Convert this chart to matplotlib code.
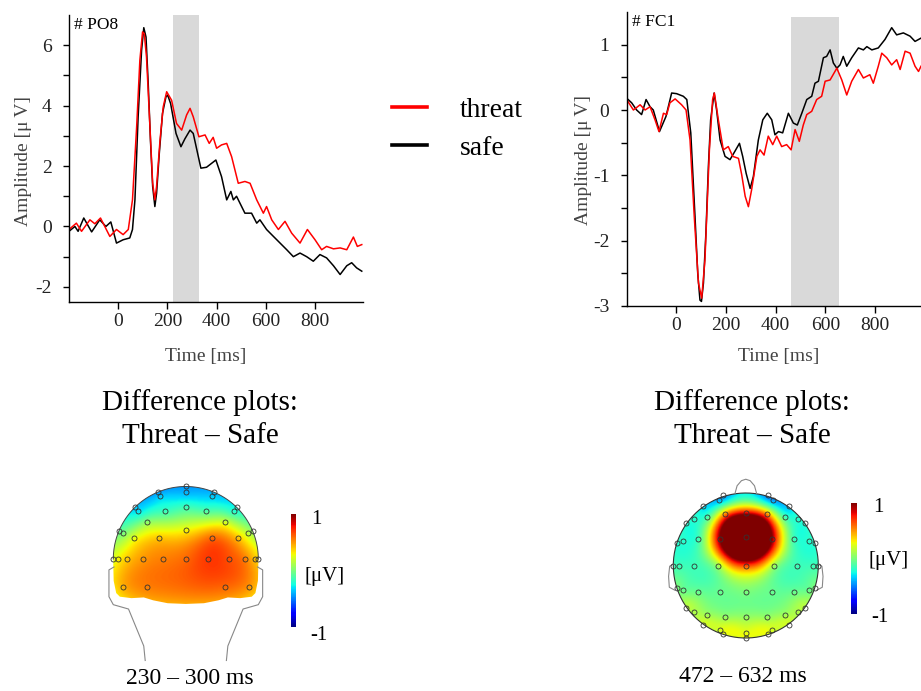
import numpy as np
import matplotlib
matplotlib.use("Agg")
import matplotlib.pyplot as plt
from matplotlib.path import Path
from matplotlib.patches import PathPatch, Circle
from matplotlib.lines import Line2D
from matplotlib.cm import ScalarMappable
from matplotlib.colors import Normalize

plt.rcParams["font.family"] = ["Liberation Serif", "DejaVu Serif"]
plt.rcParams["axes.unicode_minus"] = False

# ---- ERP waveforms (time in ms, amplitude in uV) ----
po8_safe_t = [-200, -176, -163, -140, -108, -75, -50, -30, -7, 20, 47, 58, 68, 81, 95, 104, 113, 122, 131, 140,
              149, 156, 167, 180, 194, 201, 213, 235, 255, 271, 292, 305, 336, 359, 397, 420, 441, 458, 468, 481,
              515, 542, 563, 576, 603, 631, 658, 685, 712, 739, 766, 793, 820, 847, 875, 902, 929, 949, 969, 990]
po8_safe = [-0.16, 0.0, -0.16, 0.28, -0.18, 0.22, 0.0, 0.15, -0.55, -0.44, -0.38, -0.1, 0.88, 3.63, 5.83, 6.58, 6.27, 4.73, 2.87, 1.33,
            0.66, 1.1, 2.42, 3.74, 4.29, 4.35, 4.07, 3.08, 2.64, 2.9, 3.19, 3.08, 1.93, 1.96, 2.2, 1.65, 0.88, 1.16, 0.88, 1.0,
            0.44, 0.44, 0.11, 0.22, -0.1, -0.33, -0.55, -0.77, -1.0, -0.88, -1.0, -1.15, -0.93, -1.04, -1.3, -1.59, -1.3, -1.2, -1.37, -1.48]

po8_threat_t = [-200, -170, -149, -115, -95, -72, -34, -7, 20, 41, 58, 75, 88, 99, 106, 115, 129, 140, 149, 156,
                170, 183, 197, 217, 237, 258, 278, 292, 305, 328, 353, 370, 386, 400, 420, 441, 461, 488, 515, 536,
                563, 590, 603, 624, 651, 678, 705, 739, 769, 800, 827, 847, 875, 902, 929, 956, 972, 990]
po8_threat = [-0.1, 0.11, -0.16, 0.22, 0.09, 0.28, -0.33, -0.1, -0.27, -0.1, 0.88, 3.3, 5.5, 6.44, 6.38, 5.61, 3.3, 1.44, 0.88, 1.33,
              2.86, 3.96, 4.46, 4.18, 3.41, 3.19, 3.69, 3.91, 3.63, 2.97, 3.03, 2.75, 2.95, 2.59, 2.7, 2.75, 2.31, 1.43, 1.49, 1.43,
              0.88, 0.44, 0.66, 0.22, -0.1, 0.17, -0.22, -0.55, -0.1, -0.44, -0.77, -0.66, -0.74, -0.71, -0.77, -0.35, -0.66, -0.6]

fc1_safe_t = [-200, -180, -160, -140, -122, -106, -93, -68, -42, -19, 1, 28, 42, 58, 75, 86, 95, 101, 109, 119,
              129, 138, 152, 162, 176, 196, 216, 236, 254, 267, 281, 297, 310, 330, 348, 366, 384, 397, 411, 428,
              451, 471, 487, 505, 525, 545, 558, 572, 592, 605, 619, 632, 646, 659, 672, 686, 706, 733, 753, 767,
              787, 813, 840, 867, 887, 914, 941, 961, 985]
fc1_safe = [0.18, 0.11, 0.0, -0.07, 0.16, 0.05, 0.0, -0.33, -0.1, 0.26, 0.25, 0.21, 0.16, -0.35, -1.63, -2.5, -2.91, -2.93, -2.65, -1.88,
            -0.86, -0.15, 0.26, 0.0, -0.46, -0.71, -0.76, -0.63, -0.51, -0.71, -0.97, -1.2, -1.02, -0.46, -0.15, -0.05, -0.15, -0.38, -0.33, -0.35,
            -0.05, -0.2, -0.23, -0.05, 0.16, 0.21, 0.41, 0.44, 0.8, 0.82, 0.92, 0.72, 0.64, 0.69, 0.82, 0.67, 0.8, 0.95, 0.92, 0.97,
            0.92, 0.95, 1.08, 1.26, 1.15, 1.18, 1.13, 1.05, 1.1]

fc1_threat_t = [-200, -173, -146, -126, -106, -86, -70, -52, -39, -26, -5, 21, 39, 55, 72, 89, 102, 115, 133, 146,
                153, 169, 189, 209, 227, 250, 263, 277, 290, 303, 324, 337, 353, 370, 388, 404, 424, 444, 462, 478,
                495, 511, 525, 545, 565, 585, 599, 619, 646, 666, 686, 706, 733, 753, 779, 793, 813, 827, 847, 867,
                887, 901, 921, 941, 961, 975, 985]
fc1_threat = [0.16, 0.0, 0.08, 0.0, 0.05, -0.15, -0.33, -0.05, -0.07, 0.11, 0.17, 0.08, 0.0, -0.46, -1.63, -2.65, -2.88, -2.3, -0.61, 0.16,
              0.26, -0.15, -0.61, -0.56, -0.71, -0.74, -0.99, -1.32, -1.48, -1.22, -0.71, -0.61, -0.69, -0.4, -0.53, -0.4, -0.56, -0.53, -0.61, -0.3,
              -0.48, -0.23, -0.07, -0.02, 0.16, 0.21, 0.44, 0.46, 0.64, 0.46, 0.23, 0.44, 0.62, 0.49, 0.54, 0.41, 0.67, 0.87, 0.8, 0.69,
              0.77, 0.62, 0.9, 0.87, 0.67, 0.59, 0.67]

po8_window = (224, 328)
fc1_window = (462, 654)

# ---- topography: electrode positions (head radius units) and difference values ----
back_x = [0, 0, -0.39, -0.36, 0.39, 0.36, -0.70, -0.66, 0.66, 0.70, -0.29, 0, 0.28, -0.54, 0.54,
          -0.92, -0.87, 0, 0.86, 0.92, -0.72, -0.37, 0.36, 0.72,
          -1.0, -0.94, -0.81, -0.59, -0.31, 0, 0.31, 0.59, 0.81, 0.95, 1.0, -0.87, -0.54, 0.54, 0.87]
back_y = [1.01, 0.93, 0.93, 0.87, 0.93, 0.87, 0.72, 0.66, 0.66, 0.72, 0.66, 0.72, 0.66, 0.51, 0.51,
          0.38, 0.36, 0.40, 0.36, 0.38, 0.29, 0.29, 0.29, 0.29,
          0, 0, 0, 0, 0, 0, 0, 0, 0, 0, 0, -0.38, -0.38, -0.38, -0.38]
back_v = [-0.45, -0.4, -0.45, -0.35, -0.4, -0.35, -0.35, -0.3, -0.2, -0.25, -0.15, -0.15, -0.1, 0.05, 0.2,
          -0.05, 0.0, 0.3, 0.15, 0.05, 0.25, 0.4, 0.6, 0.4,
          0.25, 0.3, 0.4, 0.5, 0.55, 0.6, 0.7, 0.65, 0.55, 0.4, 0.35, 0.45, 0.55, 0.6, 0.5]

top_x = [-0.31, 0.31, -0.37, 0.37, -0.59, 0.59, -0.29, 0, 0.29, -0.54, 0.54, -0.82, -0.72, 0.72, 0.82,
         -0.95, -0.87, -0.66, -0.36, 0, 0.36, 0.66, 0.87, 0.95,
         -1.0, -0.92, -0.71, -0.39, 0, 0.39, 0.71, 0.92, 1.0,
         -0.95, -0.87, -0.66, -0.36, 0, 0.36, 0.66, 0.87, 0.95,
         -0.82, -0.72, -0.54, -0.29, 0, 0.29, 0.54, 0.72, 0.82,
         -0.59, 0.59, -0.36, -0.31, 0, 0, 0.31, 0.36]
top_y = [0.97, 0.97, 0.90, 0.90, 0.82, 0.82, 0.71, 0.72, 0.71, 0.67, 0.67, 0.59, 0.64, 0.64, 0.59,
         0.31, 0.34, 0.37, 0.37, 0.39, 0.37, 0.37, 0.34, 0.31,
         0, 0, 0, 0, 0, 0, 0, 0, 0,
         -0.31, -0.34, -0.37, -0.37, -0.37, -0.37, -0.37, -0.34, -0.31,
         -0.59, -0.64, -0.68, -0.71, -0.71, -0.71, -0.68, -0.64, -0.59,
         -0.82, -0.82, -0.89, -0.95, -0.93, -1.0, -0.95, -0.89]
top_v = [-0.45, -0.5, -0.4, -0.45, -0.3, -0.35, 0.5, 0.85, 0.5, -0.15, -0.15, -0.2, -0.2, -0.2, -0.2,
         -0.2, -0.2, -0.15, 1.0, 2.6, 1.0, -0.15, -0.2, -0.2,
         -0.15, -0.15, -0.15, 0.1, 0.7, 0.1, -0.15, -0.15, -0.15,
         0.0, -0.05, -0.05, -0.05, 0.0, -0.05, -0.05, -0.05, 0.0,
         0.15, 0.12, 0.08, 0.05, 0.05, 0.05, 0.08, 0.12, 0.15,
         0.2, 0.2, 0.22, 0.25, 0.25, 0.28, 0.25, 0.22]

FIG_W, FIG_H = 921, 691


def px_axes(fig, x0, y0, x1, y1):
    return fig.add_axes([x0 / FIG_W, 1 - y1 / FIG_H, (x1 - x0) / FIG_W, (y1 - y0) / FIG_H])


def px_text(fig, x, y, s, **kw):
    return fig.text(x / FIG_W, 1 - y / FIG_H, s, **kw)


def plot_erp(ax, ts, vs, tt, vt, window, shade_top, xlim, ylim, yticks, ylabels, yminor, name, xlab_pos, ylab_pos):
    ax.fill_between(window, ylim[0], shade_top, color="#d9d9d9", lw=0, zorder=0)
    ax.plot(ts, vs, color="black", lw=1.1)
    ax.plot(tt, vt, color="#ff0000", lw=1.1)
    ax.set_xlim(*xlim)
    ax.set_ylim(*ylim)
    ax.set_xticks([0, 200, 400, 600, 800])
    ax.set_yticks(yticks)
    ax.set_yticklabels(ylabels)
    ax.set_yticks(yminor, minor=True)
    for s in ["top", "right"]:
        ax.spines[s].set_visible(False)
    for s in ["left", "bottom"]:
        ax.spines[s].set_linewidth(1.0)
    ax.tick_params(axis="y", which="both", direction="out", length=4.5, width=1.0, labelsize=14, pad=8, labelcolor="#222")
    ax.tick_params(axis="x", direction="out", length=5.0, width=1.0, labelsize=14, pad=3, labelcolor="#222")
    ax.set_xlabel("Time [ms]", fontsize=14, color="#444")
    ax.set_ylabel("Amplitude [\u03bc\u2009V]", fontsize=14, color="#444")
    ax.xaxis.set_label_coords(*xlab_pos)
    ax.yaxis.set_label_coords(*ylab_pos)
    ax.text(0.017, 0.965, name, transform=ax.transAxes, fontsize=12.5, va="center", ha="left")


def spline_field(xe, ye, ve, gx, gy):
    # biharmonic spline (as used for scalp maps)
    pts = np.asarray(xe) + 1j * np.asarray(ye)
    d = np.abs(pts[:, None] - pts[None, :])
    g = np.where(d > 0, d ** 2 * (np.log(np.maximum(d, 1e-12)) - 1), 0.0)
    w = np.linalg.solve(g, np.asarray(ve, dtype=float))
    q = (gx + 1j * gy).ravel()
    dq = np.abs(q[:, None] - pts[None, :])
    gq = np.where(dq > 0, dq ** 2 * (np.log(np.maximum(dq, 1e-12)) - 1), 0.0)
    return (gq @ w).reshape(gx.shape)


def topo_axes(fig, cx, cy, r, xlim, ylim):
    ax = px_axes(fig, cx + xlim[0] * r, cy - ylim[1] * r, cx + xlim[1] * r, cy - ylim[0] * r)
    ax.set_xlim(*xlim)
    ax.set_ylim(*ylim)
    ax.axis("off")
    return ax


def draw_field(ax, xe, ye, ve, extent, clip):
    gx, gy = np.meshgrid(np.linspace(extent[0], extent[1], 240), np.linspace(extent[2], extent[3], 240))
    z = spline_field(xe, ye, ve, gx, gy)
    im = ax.imshow(z, extent=extent, origin="lower", cmap="jet", vmin=-1, vmax=1,
                   interpolation="bilinear", zorder=1)
    ax.add_patch(clip)
    im.set_clip_path(clip)
    ax.plot(xe, ye, "o", ms=3.6, mfc="none", mec="#333", mew=0.6, zorder=3)


def colorbar_px(fig, x0, y0, x1, y1):
    cax = px_axes(fig, x0, y0, x1, y1)
    cb = fig.colorbar(ScalarMappable(norm=Normalize(-1, 1), cmap="jet"), cax=cax)
    cb.set_ticks([])
    cb.outline.set_visible(False)
    return cb


fig = plt.figure(figsize=(FIG_W / 100, FIG_H / 100), dpi=100)

ax1 = px_axes(fig, 69, 15, 363, 302)
plot_erp(ax1, po8_safe_t, po8_safe, po8_threat_t, po8_threat, po8_window, 7.0,
         (-200, 995), (-2.5, 7.0), [-2, 0, 2, 4, 6], ["-2", "0", "2", "4", "6"], [-1, 1, 3, 5],
         "# PO8", (0.464, -0.16), (-0.127, 0.49))

ax2 = px_axes(fig, 626.7, 12, 921, 306)
plot_erp(ax2, fc1_safe_t, fc1_safe, fc1_threat_t, fc1_threat, fc1_window, 1.43,
         (-200, 985), (-3.0, 1.5), [-3, -2, -1, 0, 1], ["-3", "-2", "-1", "0", "1"],
         [-2.5, -1.5, -0.5, 0.5], "# FC1", (0.515, -0.142), (-0.119, 0.497))

handles = [Line2D([], [], color="#ff0000", lw=2.6), Line2D([], [], color="black", lw=2.6)]
fig.legend(handles, ["threat", "safe"], loc="center left", bbox_to_anchor=(367 / FIG_W, 1 - 129 / FIG_H),
           frameon=False, fontsize=20, handlelength=1.25, handletextpad=1.2, labelspacing=0.45)

for cx in (200, 752):
    px_text(fig, cx, 419, "Difference plots:\nThreat \u2013 Safe", fontsize=21, ha="center", va="center",
            linespacing=1.32)

# back view scalp map
axb = topo_axes(fig, 185.8, 559, 72.5, (-1.3, 1.3), (-1.45, 1.1))
th = np.linspace(0, np.pi, 90)
arc = np.column_stack([np.cos(th), np.sin(th)])
lower = np.array([[-1.0, -0.1], [-0.995, -0.3], [-0.96, -0.47], [-0.91, -0.52], [-0.75, -0.54], [-0.58, -0.53],
                  [-0.45, -0.57], [-0.25, -0.61], [0, -0.62], [0.25, -0.61], [0.45, -0.57], [0.58, -0.53],
                  [0.75, -0.54], [0.91, -0.52], [0.96, -0.47], [0.995, -0.3], [1.0, -0.1], [1.0, 0.0]])
clip_b = PathPatch(Path(np.vstack([arc, lower])), transform=axb.transData, fc="none", ec="none")
draw_field(axb, back_x, back_y, back_v, (-1.05, 1.05, -0.7, 1.05), clip_b)
axb.plot(arc[:, 0], arc[:, 1], color="#444", lw=0.7, zorder=2)
for sgn in (-1, 1):
    ear = np.array([[-0.99, -0.11], [-1.06, -0.15], [-1.06, -0.52], [-1.0, -0.63], [-0.79, -0.69],
                    [-0.58, -1.2], [-0.56, -1.4]])
    axb.plot(sgn * ear[:, 0], ear[:, 1], color="#888", lw=0.8, zorder=2)

# top view scalp map
axt = topo_axes(fig, 745.8, 565.5, 72.5, (-1.3, 1.3), (-1.15, 1.3))
clip_t = Circle((0, 0), 1.0, transform=axt.transData, fc="none", ec="none")
draw_field(axt, top_x, top_y, top_v, (-1.02, 1.02, -1.02, 1.02), clip_t)
ring = np.linspace(0, 2 * np.pi, 200)
axt.plot(np.cos(ring), np.sin(ring), color="#333", lw=0.8, zorder=2)
nose = np.array([[-0.15, 0.99], [-0.12, 1.1], [-0.06, 1.17], [0, 1.19], [0.06, 1.17], [0.12, 1.1], [0.15, 0.99]])
axt.plot(nose[:, 0], nose[:, 1], color="#888", lw=0.8, zorder=2)
for sgn in (-1, 1):
    ear = np.array([[-1.0, 0.02], [-1.05, -0.01], [-1.065, -0.15], [-1.055, -0.3], [-0.98, -0.34]])
    axt.plot(sgn * ear[:, 0], ear[:, 1], color="#888", lw=0.8, zorder=2)

colorbar_px(fig, 290.7, 514, 296, 627)
colorbar_px(fig, 850.7, 503, 856.7, 614)
px_text(fig, 311, 520, "1", fontsize=15, ha="left", va="center")
px_text(fig, 305, 577, "[\u03bcV]", fontsize=15, ha="left", va="center")
px_text(fig, 310, 636, "-1", fontsize=15, ha="left", va="center")
px_text(fig, 873, 507, "1", fontsize=15, ha="left", va="center")
px_text(fig, 868, 560, "[\u03bcV]", fontsize=15, ha="left", va="center")
px_text(fig, 871, 617, "-1", fontsize=15, ha="left", va="center")

px_text(fig, 190, 679, "230 \u2013 300 ms", fontsize=17, ha="center", va="center")
px_text(fig, 743, 676, "472 \u2013 632 ms", fontsize=17, ha="center", va="center")

fig.savefig("out.png", dpi=100)
